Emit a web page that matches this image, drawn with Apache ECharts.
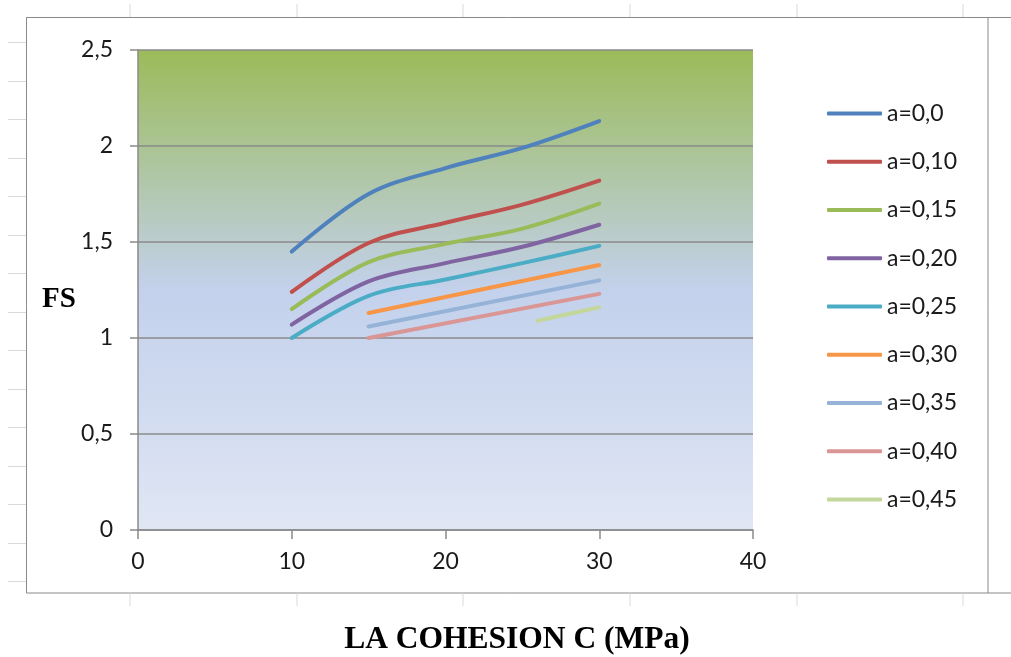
<!DOCTYPE html>
<html>
<head>
<meta charset="utf-8">
<script src="https://cdn.jsdelivr.net/npm/echarts@6/dist/echarts.min.js"></script>
<style>
  html, body { margin: 0; padding: 0; background: #fff; }
  #main { width: 1011px; height: 657px; }
</style>
</head>
<body>
<div id="main"></div>
<script>
// cohesion C (MPa)
var xFull = [10, 15, 20, 25, 30]
var xShort = [15, 30]
var xLast = [26, 30]

// FS values
var a00 = [1.45, 1.75, 1.885, 1.99, 2.13]
var a10 = [1.24, 1.495, 1.60, 1.695, 1.82]
var a15 = [1.15, 1.395, 1.49, 1.57, 1.70]
var a20 = [1.07, 1.295, 1.39, 1.475, 1.59]
var a25 = [1.0, 1.22, 1.305, 1.39, 1.48]
var a30 = [1.13, 1.38]
var a35 = [1.06, 1.30]
var a40 = [1.0, 1.23]
var a45 = [1.09, 1.16]

var names = ['a=0,0', 'a=0,10', 'a=0,15', 'a=0,20', 'a=0,25', 'a=0,30', 'a=0,35', 'a=0,40', 'a=0,45']
var colors = ['#4F81BD', '#C0504D', '#9BBB59', '#8064A2', '#4BACC6', '#F79646', '#95B3D7', '#D99694', '#C3D69B']
var xs = [xFull, xFull, xFull, xFull, xFull, xShort, xShort, xShort, xLast]
var ys = [a00, a10, a15, a20, a25, a30, a35, a40, a45]

function pairs(x, y) {
  return x.map(function (v, i) { return [v, y[i]] })
}

var font = 'Lato, "Noto Sans", sans-serif'
var gray = '#8a8a8a'

// faint spreadsheet cell lines around the chart
var sheet = []
;[130, 297, 463, 630, 797, 963].forEach(function (x) {
  sheet.push({ type: 'line', shape: { x1: x, y1: 4, x2: x, y2: 17 }, style: { stroke: '#d9d9d9', lineWidth: 1 }, silent: true })
  sheet.push({ type: 'line', shape: { x1: x, y1: 593, x2: x, y2: 606 }, style: { stroke: '#d9d9d9', lineWidth: 1 }, silent: true })
})
for (var k = 0; k < 15; k++) {
  var yy = Math.round(42 + 38.5 * k) + 0.5
  sheet.push({ type: 'line', shape: { x1: 8, y1: yy, x2: 26, y2: yy }, style: { stroke: '#d9d9d9', lineWidth: 1 }, silent: true })
}

var myChart = echarts.init(document.getElementById('main'), null, { renderer: 'canvas' })

var option = {
  animation: false,
  backgroundColor: '#fff',
  grid: {
    left: 138, top: 50, width: 615, height: 480,
    show: true,
    borderWidth: 0,
    backgroundColor: new echarts.graphic.LinearGradient(0, 0, 0, 1, [
      { offset: 0, color: '#9BBB59' },
      { offset: 0.5, color: '#C3D1EC' },
      { offset: 1, color: '#E0E6F4' }
    ]),
    outerBoundsMode: 'none'
  },
  xAxis: {
    type: 'value', min: 0, max: 40, interval: 10,
    axisLine: { show: true, lineStyle: { color: gray, width: 1.5 } },
    axisTick: { show: true, length: 9, lineStyle: { color: gray, width: 1.5 } },
    axisLabel: { margin: 20, color: '#1a1a1a', fontSize: 23, fontFamily: font },
    splitLine: { show: false }
  },
  yAxis: {
    type: 'value', min: 0, max: 2.5, interval: 0.5,
    axisLine: { show: true, lineStyle: { color: gray, width: 1.5 } },
    axisTick: { show: true, length: 8, lineStyle: { color: gray, width: 1.5 } },
    axisLabel: {
      margin: 25, color: '#1a1a1a', fontSize: 23, fontFamily: font,
      formatter: function (v) { return String(v).replace('.', ',') }
    },
    splitLine: { show: true, lineStyle: { color: gray, width: 1.5 } }
  },
  legend: {
    orient: 'vertical',
    left: 827, top: 102, padding: 0,
    icon: 'roundRect',
    itemWidth: 55, itemHeight: 4, itemGap: 25.25,
    textStyle: { color: '#1a1a1a', fontSize: 23, fontFamily: font, lineHeight: 23 },
    data: names
  },
  series: names.map(function (n, i) {
    return {
      name: n,
      type: 'line',
      data: pairs(xs[i], ys[i]),
      smooth: 0.35,
      symbol: 'none',
      color: colors[i],
      lineStyle: { width: 4, color: colors[i], cap: 'round' }
    }
  }),
  graphic: sheet.concat([
    { type: 'rect', shape: { x: 26.5, y: 17.5, width: 961.5, height: 575.5 }, style: { fill: 'none', stroke: gray, lineWidth: 1 }, silent: true, z: -1 },
    { type: 'line', shape: { x1: 988, y1: 17.5, x2: 1011, y2: 17.5 }, style: { stroke: gray, lineWidth: 1 }, silent: true },
    { type: 'line', shape: { x1: 988, y1: 593, x2: 1011, y2: 593 }, style: { stroke: gray, lineWidth: 1 }, silent: true },
    {
      type: 'text', left: 42, top: 285,
      style: { text: 'FS', fill: '#000', font: 'bold 29px "Liberation Serif", "Times New Roman", serif' }
    },
    {
      type: 'text', x: 517, y: 640,
      style: { text: 'LA COHESION C (MPa)', fill: '#000', align: 'center', verticalAlign: 'middle', font: 'bold 31.5px "Liberation Serif", "Times New Roman", serif' }
    }
  ])
}
myChart.setOption(option)
</script>
</body>
</html>
